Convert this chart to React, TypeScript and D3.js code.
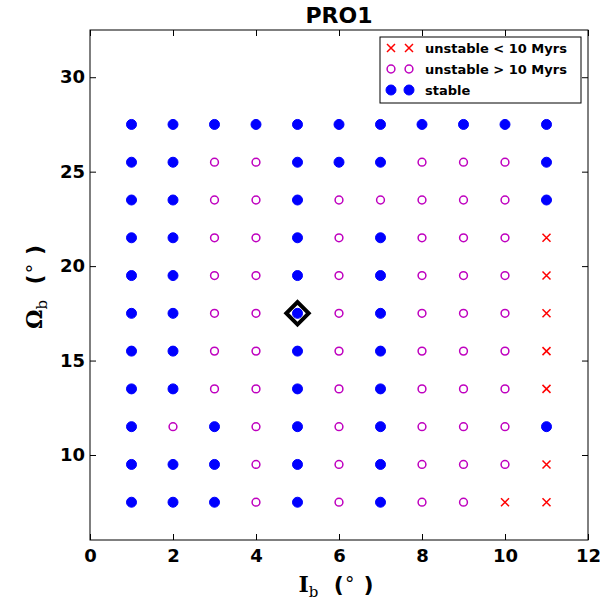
import React, { useRef, useEffect } from 'react';
import * as d3 from 'd3';

// grid of simulations: binary inclination (deg) vs. node (deg)
const inclinations = [1, 2, 3, 4, 5, 6, 7, 8, 9, 10, 11];
const nodes = [27.5, 25.5, 23.5, 21.5, 19.5, 17.5, 15.5, 13.5, 11.5, 9.5, 7.5];
// one string per node row, one letter per inclination
// s = stable, o = unstable > 10 Myrs, x = unstable < 10 Myrs
const outcomes = [
  'sssssssssss',
  'ssoosssooos',
  'ssoosooooos',
  'ssoososooox',
  'ssoososooox',
  'ssoososooox',
  'ssoososooox',
  'ssoososooox',
  'sosososooos',
  'sssososooox',
  'sssososooxx',
];
const bestFit = { inc: 5, node: 17.5 };
const legendLabels = ['unstable < 10 Myrs', 'unstable > 10 Myrs', 'stable'];
const legendKinds = ['x', 'o', 's'];

const FONT = 'DejaVu Sans';
const BLUE = '#0000ff';
const MAGENTA = '#bf00bf';
const RED = '#ff0000';

const Chart = () => {
  const ref = useRef(null);

  useEffect(() => {
    if (!ref.current) return;
    const width = 600;
    const height = 600;
    const left = 90, right = 588, top = 30, bottom = 540;

    const svg = d3.select(ref.current);
    svg.selectAll('*').remove();
    svg.attr('width', width).attr('height', height);

    const x = d3.scaleLinear().domain([0, 12]).range([left, right]);
    const y = d3.scaleLinear().domain([5.5, 32.5]).range([bottom, top]);

    // draw one marker of a given kind
    const marker = (g, kind, cx, cy) => {
      if (kind === 's') {
        g.append('circle').attr('cx', cx).attr('cy', cy).attr('r', 5)
          .attr('fill', BLUE).attr('stroke', BLUE).attr('stroke-width', 1);
      } else if (kind === 'o') {
        g.append('circle').attr('cx', cx).attr('cy', cy).attr('r', 3.9)
          .attr('fill', 'none').attr('stroke', MAGENTA).attr('stroke-width', 1.5);
      } else {
        const s = 4;
        g.append('path')
          .attr('d', `M${cx - s},${cy - s}L${cx + s},${cy + s}M${cx - s},${cy + s}L${cx + s},${cy - s}`)
          .attr('stroke', RED).attr('stroke-width', 1.5).attr('fill', 'none');
      }
    };

    // points
    const pts = svg.append('g');
    nodes.forEach((node, r) => {
      inclinations.forEach((inc, c) => {
        marker(pts, outcomes[r][c], x(inc), y(node));
      });
    });

    // best fit diamond
    svg.append('path')
      .attr('d', d3.symbol(d3.symbolSquare, 250)())
      .attr('transform', `translate(${x(bestFit.inc)},${y(bestFit.node)}) rotate(45)`)
      .attr('fill', 'none')
      .attr('stroke', '#000')
      .attr('stroke-width', 4);

    // axes with inward ticks on all sides
    const styleAxis = (g) => {
      g.select('.domain').remove();
      g.selectAll('line').attr('stroke', '#000');
      g.selectAll('text')
        .attr('fill', '#000')
        .style('font-family', FONT)
        .style('font-weight', 'bold')
        .style('font-size', '18px');
    };
    svg.append('g').attr('transform', `translate(0,${bottom})`)
      .call(d3.axisBottom(x).ticks(6).tickSize(-6).tickPadding(9)).call(styleAxis);
    svg.append('g').attr('transform', `translate(0,${top})`)
      .call(d3.axisTop(x).ticks(6).tickSize(-6).tickFormat(() => '')).call(styleAxis);
    svg.append('g').attr('transform', `translate(${left},0)`)
      .call(d3.axisLeft(y).ticks(6).tickSize(-6).tickPadding(5)).call(styleAxis);
    svg.append('g').attr('transform', `translate(${right},0)`)
      .call(d3.axisRight(y).ticks(6).tickSize(-6).tickFormat(() => '')).call(styleAxis);

    svg.append('rect')
      .attr('x', left).attr('y', top)
      .attr('width', right - left).attr('height', bottom - top)
      .attr('fill', 'none').attr('stroke', '#000').attr('stroke-width', 1);

    // title
    svg.append('text')
      .attr('x', (left + right) / 2).attr('y', 23)
      .attr('text-anchor', 'middle')
      .style('font-family', FONT).style('font-weight', 'bold').style('font-size', '22px')
      .text('PRO1');

    // axis labels
    const axisLabel = (t, sym) => {
      t.style('font-family', FONT).style('font-weight', 'bold').style('font-size', '22px')
        .attr('text-anchor', 'middle').style('white-space', 'pre');
      t.append('tspan').style('font-family', 'DejaVu Serif').style('font-weight', 'bold').text(sym);
      t.append('tspan').style('font-family', 'DejaVu Serif').style('font-weight', 'normal')
        .style('font-size', '15px').attr('dy', 5).text('b');
      t.append('tspan').attr('dy', -5).text('  (');
      t.append('tspan').style('font-weight', 'normal').style('font-size', '19px')
        .attr('dy', -7).text('∘');
      t.append('tspan').attr('dy', 7).text(' )');
    };
    axisLabel(svg.append('text').attr('x', 336).attr('y', 592), 'I');
    axisLabel(svg.append('text').attr('transform', 'translate(42,287) rotate(-90)'), 'Ω');

    // legend
    const lg = svg.append('g');
    lg.append('rect')
      .attr('x', 380).attr('y', 37).attr('width', 201).attr('height', 66)
      .attr('fill', '#fff').attr('stroke', '#000').attr('stroke-width', 1);
    legendLabels.forEach((label, i) => {
      const cy = 48 + i * 21;
      marker(lg, legendKinds[i], 391, cy);
      marker(lg, legendKinds[i], 409, cy);
      lg.append('text')
        .attr('x', 425).attr('y', cy).attr('dy', '0.35em')
        .style('font-family', FONT).style('font-weight', 'bold').style('font-size', '13px')
        .text(label);
    });
  }, []);

  return <svg ref={ref} style={{ position: 'absolute', left: 0, top: 0 }} />;
};

export default function App() {
  return <Chart />;
}
